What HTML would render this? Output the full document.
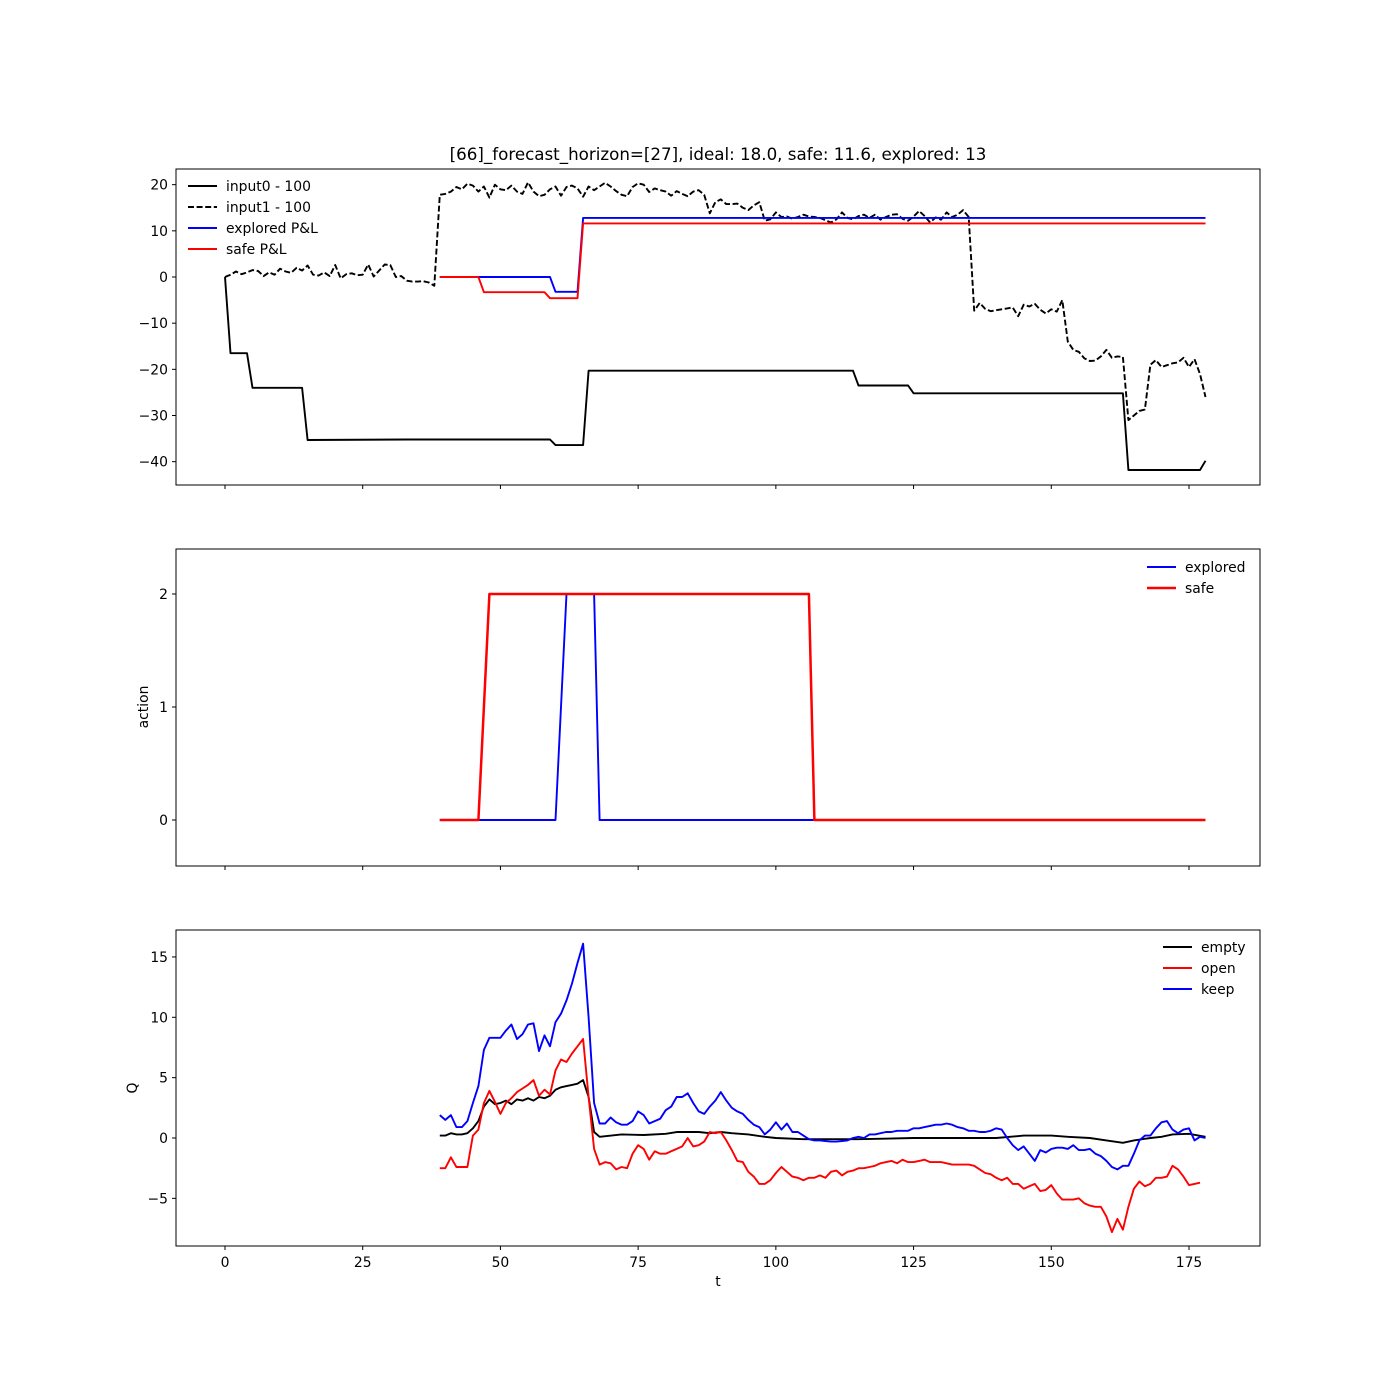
<!DOCTYPE html>
<html><head><meta charset="utf-8"><style>
body{margin:0;background:#fff}
svg{display:block;font-family:"DejaVu Sans","Liberation Sans",sans-serif}
</style></head><body>
<svg id="fig" width="1400" height="1400" xmlns="http://www.w3.org/2000/svg">
<rect width="1400" height="1400" fill="#fff"/>
<text x="718" y="160" font-size="16.7" text-anchor="middle">[66]_forecast_horizon=[27], ideal: 18.0, safe: 11.6, explored: 13</text>
</svg>
<script>
// ---------- data ----------
const xTicks = [0,25,50,75,100,125,150,175];
const p1Ticks = [-40,-30,-20,-10,0,10,20];
const p2Ticks = [0,1,2];
const p3Ticks = [-5,0,5,10,15];

const in0T = [0,1,4,5,14,15,33,59,60,65,66,114,115,124,125,163,164,177,178];
const in0V = [0,-16.5,-16.5,-24,-24,-35.3,-35.2,-35.2,-36.4,-36.4,-20.3,-20.3,-23.5,-23.5,-25.2,-25.2,-41.8,-41.8,-39.8];

const in1V = [0,0.5,1.2,0.6,1,1.5,1.3,0.2,1,0.5,1.8,1.2,0.9,2,1.4,2.5,0.5,0.3,1,0.2,2.6,-0.3,0.6,0.8,0.4,0.5,2.7,0.1,1.4,2.7,2.6,0,0.2,-0.8,-1,-1,-0.9,-1.2,-1.9,
17.8,18,18.5,19.5,19,20.2,19.8,18.5,19.6,17.2,20,19,18.8,19.8,18.5,18,20.5,18.5,17.5,17.8,19,19.6,17.6,19.5,19.8,19.2,17.4,19.6,18.8,19.6,20.4,19.6,18.6,17.8,17.5,19.5,20.3,20,18.4,19.2,18.8,18.5,17.6,18.6,18,17.5,18.5,18.8,17.8,
13.8,16.2,16.8,15.8,15.8,15.9,15,14.5,15.5,16.2,12.2,12.5,14,13,13.1,12.6,13,13.5,13.1,13,12.8,12.3,11.8,12.5,14,12.8,12.5,13.2,13.5,12.8,13.5,12.4,13,13.5,13.6,12.6,12.2,13.1,14.3,13.2,11.8,12.9,12.4,14,13,13.5,14.5,13,
-7.3,-5.6,-6.9,-7.4,-7.2,-7,-6.8,-6.6,-8.5,-6,-6.4,-5.8,-7.1,-7.9,-7,-7.5,-5,-14,-15.8,-16.2,-17.6,-18.2,-18.1,-17.2,-15.8,-17.5,-17.2,-17.3,-31,-30,-29,-28.7,-19,-18,-19.5,-19.1,-18.7,-18.5,-17.5,-19.5,-17.8,-21,-26];

const expPnlT = [39,59,60,64,65,178];
const expPnlV = [0,0,-3.2,-3.2,12.8,12.8];
const safePnlT = [39,46,47,58,59,64,65,178];
const safePnlV = [0,0,-3.3,-3.3,-4.6,-4.6,11.6,11.6];

const expActT = [39,60,62,67,68,178];
const expActV = [0,0,2,2,0,0];
const safeActT = [39,46,48,106,107,178];
const safeActV = [0,0,2,2,0,0];

const keepV = [1.9,1.5,1.9,0.9,0.9,1.4,2.9,4.3,7.3,8.3,8.3,8.3,8.9,9.4,8.2,8.6,9.4,9.5,7.2,8.5,7.6,9.6,10.3,11.4,12.8,14.5,16.1,10,2.9,1.2,1.2,1.7,1.3,1.1,1.1,1.4,2.2,1.9,1.2,1.4,1.6,2.3,2.6,3.4,3.4,3.7,2.9,2.2,2.0,2.6,3.1,3.8,3.1,2.5,2.2,2.0,1.5,1.1,0.9,0.3,0.7,1.3,0.7,1.2,0.5,0.5,0.2,-0.1,-0.2,-0.2,-0.25,-0.3,-0.3,-0.25,-0.2,0,0.1,0,0.3,0.3,0.4,0.5,0.5,0.6,0.6,0.6,0.8,0.8,0.9,1.0,1.1,1.1,1.2,1.1,0.9,0.8,0.6,0.6,0.5,0.5,0.6,0.8,0.7,0,-0.6,-1.0,-0.7,-1.3,-1.9,-1.0,-1.2,-0.9,-0.8,-0.8,-0.9,-0.6,-1.0,-1.0,-0.9,-1.3,-1.5,-1.9,-2.4,-2.6,-2.3,-2.3,-1.3,-0.2,0.2,0.2,0.8,1.3,1.4,0.7,0.4,0.7,0.8,-0.2,0.1,0];
const openV = [-2.5,-2.5,-1.6,-2.4,-2.4,-2.4,0.2,0.7,2.9,3.9,3.0,2.0,2.9,3.3,3.8,4.1,4.4,4.8,3.5,4.0,3.6,5.6,6.5,6.3,7.0,7.6,8.2,3.4,-0.9,-2.2,-2.0,-2.1,-2.6,-2.4,-2.5,-1.3,-0.6,-0.9,-1.8,-1.1,-1.3,-1.3,-1.1,-0.9,-0.7,0,-0.7,-0.6,-0.3,0.5,0.4,0.5,-0.2,-1.0,-1.9,-2.0,-2.8,-3.2,-3.8,-3.8,-3.5,-2.9,-2.4,-2.8,-3.2,-3.3,-3.5,-3.3,-3.3,-3.1,-3.3,-2.8,-2.7,-3.1,-2.8,-2.7,-2.5,-2.5,-2.4,-2.3,-2.1,-2.0,-1.9,-2.1,-1.8,-2.0,-2.0,-1.9,-1.8,-2.0,-2.0,-2.0,-2.1,-2.2,-2.2,-2.2,-2.2,-2.3,-2.6,-2.9,-3.0,-3.3,-3.5,-3.3,-3.8,-3.8,-4.2,-4.0,-3.8,-4.4,-4.3,-3.9,-4.6,-5.1,-5.1,-5.1,-5.0,-5.4,-5.6,-5.7,-5.7,-6.5,-7.8,-6.7,-7.6,-5.7,-4.2,-3.6,-4.0,-3.8,-3.3,-3.3,-3.2,-2.3,-2.6,-3.2,-3.9,-3.8,-3.7];
const emptyT = [39,40,41,42,43,44,45,46,47,48,49,50,51,52,53,54,55,56,57,58,59,60,61,62,63,64,65,66,67,68,72,76,80,82,86,88,90,92,95,98,100,105,115,125,130,140,145,150,153,157,160,163,165,168,170,172,175,178];
const emptyV = [0.2,0.2,0.4,0.3,0.3,0.4,0.8,1.4,2.6,3.2,2.8,2.9,3.1,2.8,3.2,3.1,3.3,3.1,3.4,3.3,3.5,4.0,4.2,4.3,4.4,4.5,4.8,3.4,0.5,0.1,0.3,0.25,0.35,0.5,0.5,0.4,0.5,0.4,0.3,0.1,0,-0.1,-0.1,0,0,0,0.2,0.2,0.1,0,-0.2,-0.4,-0.2,0,0.1,0.3,0.35,0.1];

// ---------- drawing ----------
const NS="http://www.w3.org/2000/svg";
const svg=document.getElementById('fig');
const AX_L=176, AX_R=1260;
const LW=1.9;
const FS=13.9;
function X(t){return 225+t*964/175;}
const panels=[
 {top:169,bot:485,y0:277,k:4.617,ticks:p1Ticks,name:'price-panel'},
 {top:549,bot:866,y0:820,k:113,ticks:p2Ticks,name:'action-panel'},
 {top:930,bot:1246,y0:1138,k:12.07,ticks:p3Ticks,name:'q-panel'}];
function mk(tag,attrs,parent){const e=document.createElementNS(NS,tag);for(const k in attrs)e.setAttribute(k,attrs[k]);(parent||svg).appendChild(e);return e;}
function fmt(v){return v<0?'\u2212'+(-v):String(v);}
function line(p,ts,vs,color,w,name,dash){
  const Y=v=>p.y0-v*p.k;
  const d=ts.map((t,i)=>(i?'L':'M')+X(t).toFixed(1)+','+Y(vs[i]).toFixed(1)).join('');
  const e=mk('path',{d:d,fill:'none',stroke:color,'stroke-width':w,'stroke-linejoin':'round'});
  if(dash)e.setAttribute('stroke-dasharray',dash);
  
  
}
function range(a,n){return Array.from({length:n},(_,i)=>a+i);}
panels.forEach((p,pi)=>{
  const Y=v=>p.y0-v*p.k;
  const r=mk('rect',{x:AX_L,y:p.top,width:AX_R-AX_L,height:p.bot-p.top,fill:'none',stroke:'#000','stroke-width':1});
  
  
  xTicks.forEach(t=>{
    mk('line',{x1:X(t),x2:X(t),y1:p.bot,y2:p.bot+4,stroke:'#000'});
    if(pi===2){const tx=mk('text',{x:X(t),y:p.bot+21,'font-size':FS,'text-anchor':'middle'});tx.textContent=t;
      
      }
  });
  p.ticks.forEach(v=>{
    mk('line',{x1:AX_L-4,x2:AX_L,y1:Y(v),y2:Y(v),stroke:'#000'});
    const tx=mk('text',{x:AX_L-8,y:Y(v)+5,'font-size':FS,'text-anchor':'end'});tx.textContent=fmt(v);
    
    
  });
});
const P1=panels[0],P2=panels[1],P3=panels[2];
line(P1,in0T,in0V,'#000',LW,'input0-line');
line(P1,range(0,in1V.length),in1V,'#000',LW,'input1-line','6,2.6');
line(P1,expPnlT,expPnlV,'#0000ff',LW,'explored-pnl-line');
line(P1,safePnlT,safePnlV,'#ff0000',LW,'safe-pnl-line');
line(P2,expActT,expActV,'#0000ff',LW,'explored-action-line');
line(P2,safeActT,safeActV,'#ff0000',2.5,'safe-action-line');
line(P3,emptyT,emptyV,'#000',LW,'empty-q-line');
line(P3,range(39,openV.length),openV,'#ff0000',LW,'open-q-line');
line(P3,range(39,keepV.length),keepV,'#0000ff',LW,'keep-q-line');

function legend(x,y0,items){
  items.forEach((it,i)=>{
    const y=y0+i*21;
    const g=mk('g',{});
    
    
    const l=mk('line',{x1:x,x2:x+29,y1:y,y2:y,stroke:it[1],'stroke-width':it[3]||LW},g);
    if(it[4])l.setAttribute('stroke-dasharray',it[4]);
    const t=mk('text',{x:x+38,y:y+5,'font-size':FS},g);t.textContent=it[0];
  });
}
legend(188,186,[['input0 - 100','#000','input0'],['input1 - 100','#000','input1',LW,'6,2.6'],['explored P&L','#0000ff','explored-pnl'],['safe P&L','#ff0000','safe-pnl']]);
legend(1147,567,[['explored','#0000ff','explored'],['safe','#ff0000','safe',2.5]]);
legend(1163,947,[['empty','#000','empty'],['open','#ff0000','open'],['keep','#0000ff','keep']]);

function lab(txt,x,y,rot,name){
  const t=mk('text',{x:x,y:y,'font-size':FS,'text-anchor':'middle'});
  if(rot)t.setAttribute('transform','rotate(-90 '+x+' '+y+')');
  t.textContent=txt;
  
  
}
lab('action',148,707,true,'y-axis-title-action');
lab('Q',137,1088,true,'y-axis-title-q');
lab('t',718,1286,false,'x-axis-title');
</script>
</body></html>
